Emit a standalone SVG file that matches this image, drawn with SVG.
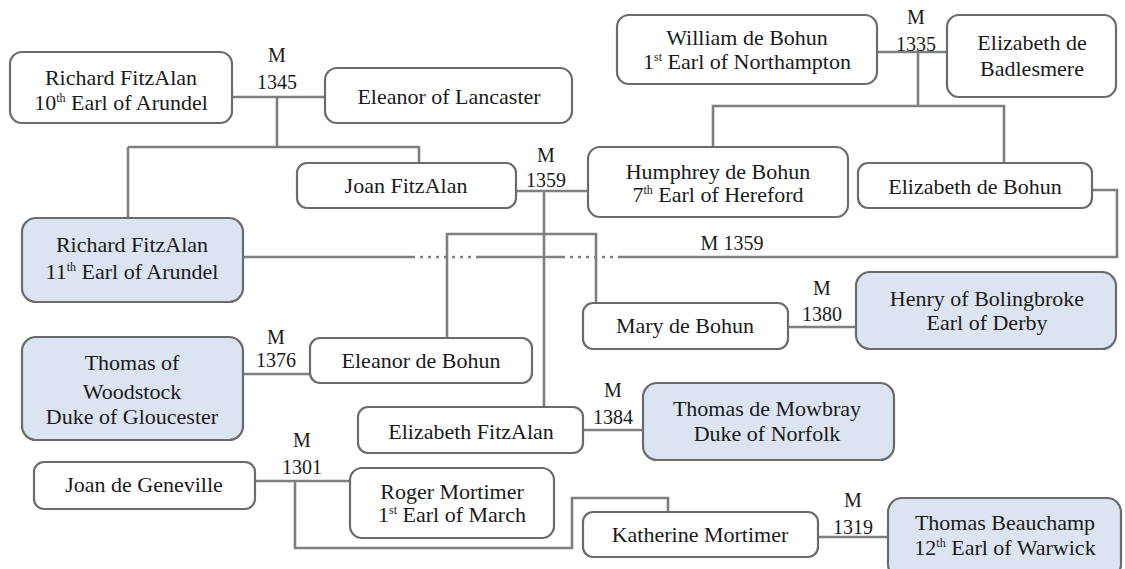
<svg xmlns="http://www.w3.org/2000/svg" width="1125" height="569" viewBox="0 0 1125 569">
<style>
.b{fill:#fff;stroke:#6b6b6b;stroke-width:2.2}
.p{fill:#dbe4f0;stroke:#6b6b6b;stroke-width:2.2}
text{font-family:"Liberation Serif","Times New Roman",serif;font-size:22px;fill:#1a1a1a;text-anchor:middle}
.m{font-size:20px}
.s{font-size:12px}
.c{fill:none;stroke:#7f7f7f;stroke-width:2.6}
.d{fill:none;stroke:#7f7f7f;stroke-width:2.6;stroke-dasharray:3 5}
</style>
<rect width="1125" height="569" fill="#fff"/>
<g id="connectors">
<path class="c" d="M232 97H325M277 97V147M128 147H419V163M128 147V218"/>
<path class="c" d="M516 191H588M544 191V407M447 337V234H596V303"/>
<path class="c" d="M877 52H947M918 52V106M713 147V106H1004V163"/>
<path class="c" d="M1092 190H1117V257H620M562 257H477M412 257H243"/>
<path class="d" d="M412 257H477M562 257H620"/>
<path class="c" d="M243 374H310"/>
<path class="c" d="M788 327H856"/>
<path class="c" d="M583 430H643"/>
<path class="c" d="M255 481H350M295 481V548H572V498H668V512"/>
<path class="c" d="M818 537H888"/>
<text class="m" x="277" y="62">M</text><text class="m" x="277" y="89">1345</text>
<text class="m" x="546" y="162">M</text><text class="m" x="546" y="187">1359</text>
<text class="m" x="916" y="24">M</text><text class="m" x="916" y="51">1335</text>
<text class="m" x="732" y="250">M 1359</text>
<text class="m" x="276" y="344">M</text><text class="m" x="276" y="367">1376</text>
<text class="m" x="822" y="295">M</text><text class="m" x="822" y="321">1380</text>
<text class="m" x="613" y="397">M</text><text class="m" x="613" y="424">1384</text>
<text class="m" x="302" y="447">M</text><text class="m" x="302" y="474">1301</text>
<text class="m" x="853" y="507">M</text><text class="m" x="853" y="534">1319</text>
</g>
<g id="richard10"><rect class="b" x="10" y="52" width="222" height="71" rx="12"/><text x="121" y="85">Richard FitzAlan</text><text x="121" y="110">10<tspan class="s" dy="-8">th</tspan><tspan dy="8"> Earl of Arundel</tspan></text></g>
<g id="eleanorLancaster"><rect class="b" x="325" y="68" width="247" height="55" rx="12"/><text x="449" y="104">Eleanor of Lancaster</text></g>
<g id="joanFitzAlan"><rect class="b" x="297" y="163" width="219" height="45" rx="10"/><text x="406" y="193">Joan FitzAlan</text></g>
<g id="william"><rect class="b" x="617" y="15" width="260" height="69" rx="12"/><text x="747" y="45">William de Bohun</text><text x="747" y="69">1<tspan class="s" dy="-8">st</tspan><tspan dy="8"> Earl of Northampton</tspan></text></g>
<g id="badlesmere"><rect class="b" x="947" y="15" width="169" height="82" rx="12"/><text x="1032" y="50">Elizabeth de</text><text x="1032" y="76">Badlesmere</text></g>
<g id="humphrey"><rect class="b" x="588" y="147" width="260" height="70" rx="12"/><text x="718" y="179">Humphrey de Bohun</text><text x="718" y="202">7<tspan class="s" dy="-8">th</tspan><tspan dy="8"> Earl of Hereford</tspan></text></g>
<g id="elizabethBohun"><rect class="b" x="858" y="163" width="234" height="45" rx="10"/><text x="975" y="194">Elizabeth de Bohun</text></g>
<g id="richard11"><rect class="p" x="22" y="218" width="221" height="84" rx="14"/><text x="132" y="252">Richard FitzAlan</text><text x="132" y="279">11<tspan class="s" dy="-8">th</tspan><tspan dy="8"> Earl of Arundel</tspan></text></g>
<g id="thomasWoodstock"><rect class="p" x="22" y="337" width="221" height="103" rx="14"/><text x="132" y="370">Thomas of</text><text x="132" y="399">Woodstock</text><text x="132" y="424">Duke of Gloucester</text></g>
<g id="eleanorBohun"><rect class="b" x="310" y="338" width="222" height="45" rx="10"/><text x="421" y="368">Eleanor de Bohun</text></g>
<g id="maryBohun"><rect class="b" x="583" y="303" width="205" height="46" rx="10"/><text x="685" y="333">Mary de Bohun</text></g>
<g id="henry"><rect class="p" x="856" y="272" width="260" height="77" rx="14"/><text x="987" y="306">Henry of Bolingbroke</text><text x="987" y="330">Earl of Derby</text></g>
<g id="elizabethFitzAlan"><rect class="b" x="358" y="407" width="225" height="46" rx="10"/><text x="471" y="439">Elizabeth FitzAlan</text></g>
<g id="mowbray"><rect class="p" x="643" y="383" width="251" height="77" rx="14"/><text x="767" y="416">Thomas de Mowbray</text><text x="767" y="441">Duke of Norfolk</text></g>
<g id="joanGeneville"><rect class="b" x="34" y="462" width="221" height="47" rx="10"/><text x="144" y="492">Joan de Geneville</text></g>
<g id="roger"><rect class="b" x="350" y="468" width="204" height="70" rx="12"/><text x="452" y="499">Roger Mortimer</text><text x="452" y="522">1<tspan class="s" dy="-8">st</tspan><tspan dy="8"> Earl of March</tspan></text></g>
<g id="katherine"><rect class="b" x="583" y="512" width="235" height="45" rx="10"/><text x="700" y="542">Katherine Mortimer</text></g>
<g id="beauchamp"><rect class="p" x="888" y="498" width="233" height="80" rx="14"/><text x="1005" y="530">Thomas Beauchamp</text><text x="1005" y="555">12<tspan class="s" dy="-8">th</tspan><tspan dy="8"> Earl of Warwick</tspan></text></g>
</svg>
